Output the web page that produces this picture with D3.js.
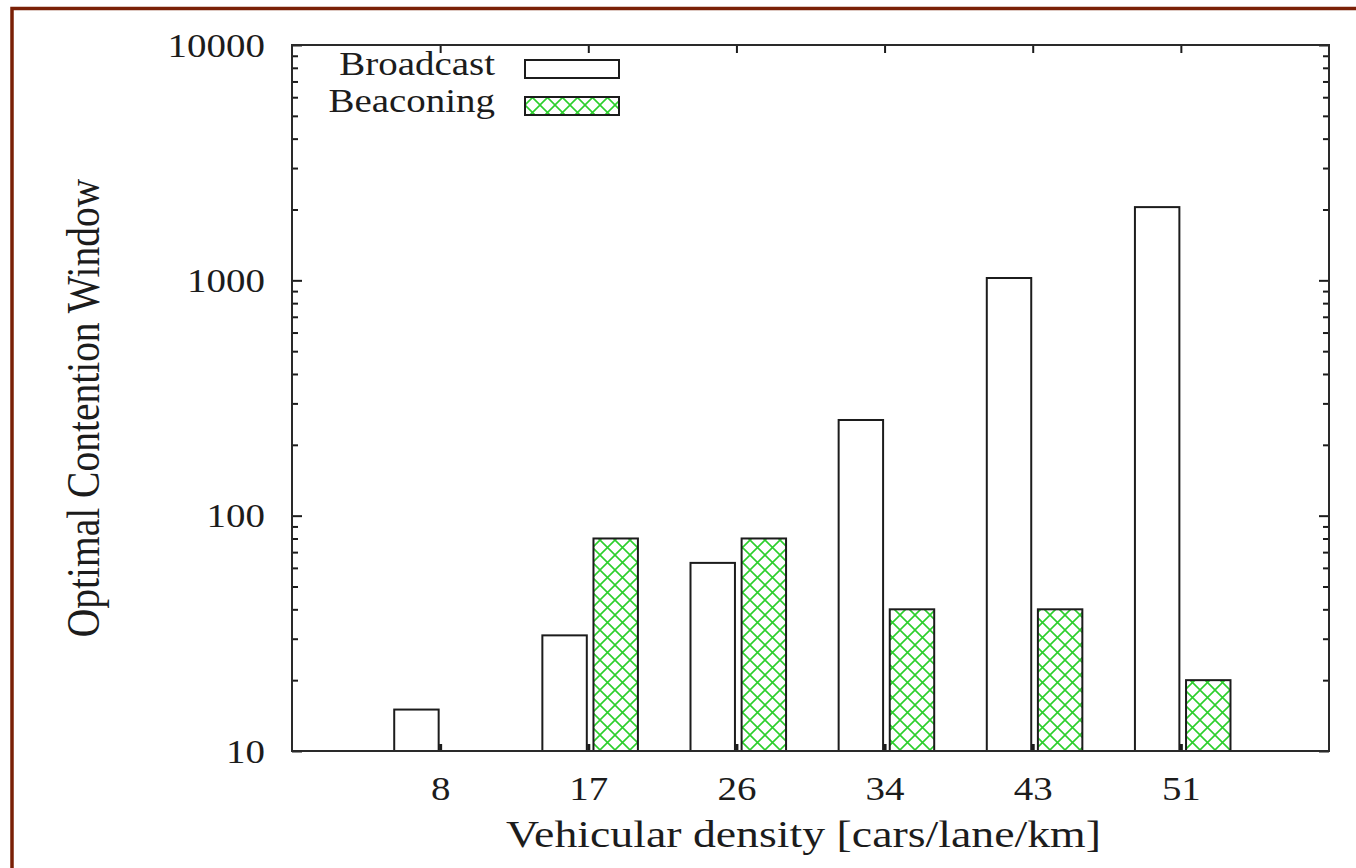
<!DOCTYPE html>
<html>
<head>
<meta charset="utf-8">
<script src="https://cdn.jsdelivr.net/npm/d3@7"></script>
<style>
  html, body { margin: 0; padding: 0; background: #fff; }
  svg { display: block; }
</style>
</head>
<body>
<div id="chart"></div>
<script>
// data
const densities = ["8", "17", "26", "34", "43", "51"]
const broadcast = [15, 31, 63, 255, 1023, 2047]
const beaconing = [null, 80, 80, 40, 40, 20]
const series_names = ["Broadcast", "Beaconing"]
const y_major = [10, 100, 1000, 10000]

const W = 1356, H = 868
const font = "Liberation Serif, Times New Roman, serif"
const stretch = 1.18   // glyphs in the reference are a bit wider than tall
const ink = "#1c1c1c"
const green = "#2ccf2c"

const svg = d3.select("#chart").append("svg")
    .attr("width", W).attr("height", H)

const defs = svg.append("defs")
const pat = defs.append("pattern")
    .attr("id", "hatch")
    .attr("patternUnits", "userSpaceOnUse")
    .attr("width", 15).attr("height", 15)
pat.append("rect").attr("width", 15).attr("height", 15).attr("fill", "#fff")
pat.append("path")
    .attr("d", "M0,0 L15,15 M15,0 L0,15 M-2,13 L2,17 M13,-2 L17,2 M13,17 L17,13 M-2,2 L2,-2")
    .attr("stroke", green).attr("stroke-width", 1.6).attr("fill", "none")

// outer dark red frame (runs off the right and bottom edge)
svg.append("rect")
    .attr("x", 12).attr("y", 8.5)
    .attr("width", W + 20).attr("height", H + 20)
    .attr("fill", "none").attr("stroke", "#7a2006").attr("stroke-width", 3.5)

const x = d3.scaleLinear().domain([-1, 6]).range([292, 1329])
const y = d3.scaleLog().domain([10, 10000]).range([751, 45])
const u = x(1) - x(0)

let y_minor = []
for (const d of [10, 100, 1000]) {
    for (let k = 2; k <= 9; k++) y_minor.push(d * k)
}

function stretchText(sel) {
    sel.each(function () {
        const t = d3.select(this)
        const xx = +t.attr("x") || 0
        t.attr("x", xx / stretch).attr("transform", `scale(${stretch},1)`)
    })
}

// bars
const g_bars = svg.append("g")
g_bars.selectAll(".bc")
    .data(broadcast)
    .join("rect")
    .attr("x", (d, i) => x(i) - 0.31 * u)
    .attr("width", 0.30 * u)
    .attr("y", d => y(d))
    .attr("height", d => y(10) - y(d))
    .attr("fill", "#fff")
    .attr("stroke", ink).attr("stroke-width", 2)

g_bars.selectAll(".bn")
    .data(beaconing.map((v, i) => ({v, i})).filter(d => d.v != null))
    .join("rect")
    .attr("x", d => x(d.i) + 0.035 * u)
    .attr("width", 0.30 * u)
    .attr("y", d => y(d.v))
    .attr("height", d => y(10) - y(d.v))
    .attr("fill", "url(#hatch)")
    .attr("stroke", ink).attr("stroke-width", 2)

// axes
function styleAxis(g, w) {
    g.select(".domain").remove()
    g.selectAll("line").attr("stroke", ink).attr("stroke-width", w)
    g.selectAll("text")
        .attr("fill", ink)
        .attr("font-family", font)
        .attr("font-size", 33)
}

svg.append("g").attr("transform", `translate(${x.range()[0]},0)`)
    .call(d3.axisLeft(y).tickValues(y_major).tickSize(-10).tickPadding(32 / stretch)
        .tickFormat(d3.format("d")))
    .call(g => styleAxis(g, 2))
    .call(g => g.selectAll("text").attr("dy", "0.34em").call(stretchText))

svg.append("g").attr("transform", `translate(${x.range()[0]},0)`)
    .call(d3.axisLeft(y).tickValues(y_minor).tickSize(-6).tickFormat(""))
    .call(g => styleAxis(g, 2))

svg.append("g").attr("transform", `translate(${x.range()[1]},0)`)
    .call(d3.axisRight(y).tickValues(y_major).tickSize(-10).tickFormat(""))
    .call(g => styleAxis(g, 2))

svg.append("g").attr("transform", `translate(${x.range()[1]},0)`)
    .call(d3.axisRight(y).tickValues(y_minor).tickSize(-6).tickFormat(""))
    .call(g => styleAxis(g, 2))

svg.append("g").attr("transform", `translate(0,${y.range()[0]})`)
    .call(d3.axisBottom(x).tickValues(d3.range(densities.length)).tickSize(-7)
        .tickPadding(26).tickFormat(i => densities[i]))
    .call(g => styleAxis(g, 3))
    .call(g => g.selectAll("text").call(stretchText))

svg.append("g").attr("transform", `translate(0,${y.range()[1]})`)
    .call(d3.axisTop(x).tickValues(d3.range(densities.length)).tickSize(-8).tickFormat(""))
    .call(g => styleAxis(g, 2))

// plot frame
svg.append("rect")
    .attr("x", x.range()[0]).attr("y", y.range()[1])
    .attr("width", x.range()[1] - x.range()[0])
    .attr("height", y.range()[0] - y.range()[1])
    .attr("fill", "none").attr("stroke", "#2a2a2a").attr("stroke-width", 2)

// axis titles
svg.append("text")
    .attr("transform", `translate(${(x.range()[0] + x.range()[1]) / 2 - 7},847) scale(${stretch},1)`)
    .attr("text-anchor", "middle")
    .attr("font-family", font).attr("font-size", 38.8)
    .attr("fill", ink)
    .text("Vehicular density [cars/lane/km]")

svg.append("text")
    .attr("transform", `translate(99,408) scale(${stretch},1) rotate(-90)`)
    .attr("text-anchor", "middle")
    .attr("font-family", font).attr("font-size", 39.5)
    .attr("fill", ink)
    .text("Optimal Contention Window")

// legend
const legend = svg.append("g")
series_names.forEach((name, i) => {
    const base = 75 + i * 37
    legend.append("text")
        .attr("transform", `translate(495,${base}) scale(${stretch},1)`)
        .attr("text-anchor", "end")
        .attr("font-family", font).attr("font-size", 33)
        .attr("fill", ink)
        .text(name)
    legend.append("rect")
        .attr("x", 525).attr("y", base - 15)
        .attr("width", 94).attr("height", 18)
        .attr("fill", i == 0 ? "#fff" : "url(#hatch)")
        .attr("stroke", ink).attr("stroke-width", 2)
})
</script>
</body>
</html>
